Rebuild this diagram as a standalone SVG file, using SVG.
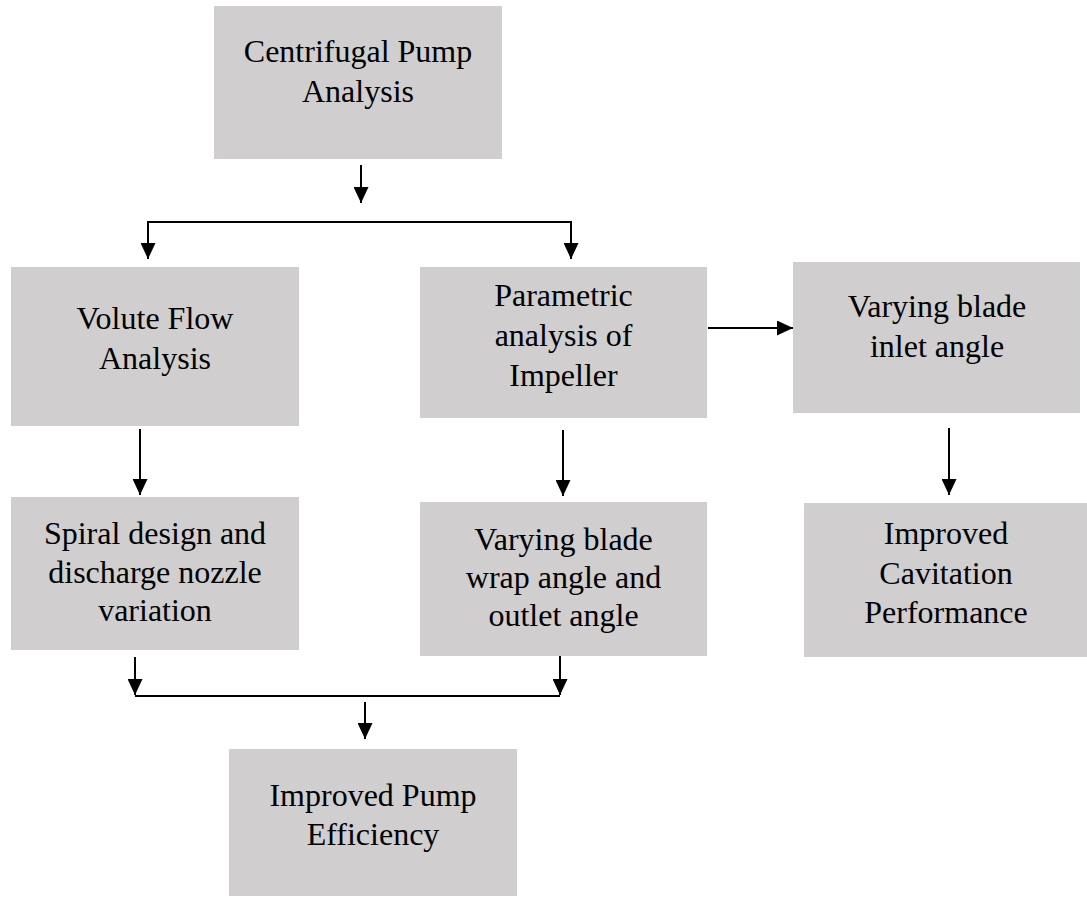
<svg xmlns="http://www.w3.org/2000/svg" width="1087" height="898" viewBox="0 0 1087 898">
<style>
.box{fill:#D0CECE;}
.lbl{font-family:"Liberation Serif","Times New Roman",serif;font-size:32px;fill:#000;text-anchor:middle;}
.con{stroke:#000;stroke-width:2;fill:none;}
</style>
<defs>
<marker id="ah" markerUnits="userSpaceOnUse" markerWidth="16" markerHeight="15" refX="16" refY="7.5" orient="auto">
<path d="M0,0 L16,7.5 L0,15 z" fill="#000"/>
</marker>
</defs>
<rect width="1087" height="898" fill="#fff"/>
<g id="n-centrifugal">
<rect class="box" x="214" y="6" width="288" height="153"/>
<text class="lbl" x="358" y="62">Centrifugal Pump</text>
<text class="lbl" x="358" y="102">Analysis</text>
</g>
<g id="n-volute">
<rect class="box" x="11" y="267" width="288" height="159"/>
<text class="lbl" x="155" y="329">Volute Flow</text>
<text class="lbl" x="155" y="369">Analysis</text>
</g>
<g id="n-parametric">
<rect class="box" x="420" y="267" width="287" height="151"/>
<text class="lbl" x="563.5" y="306">Parametric</text>
<text class="lbl" x="563.5" y="346">analysis of</text>
<text class="lbl" x="563.5" y="386">Impeller</text>
</g>
<g id="n-inlet">
<rect class="box" x="793" y="262" width="287" height="151"/>
<text class="lbl" x="937" y="317">Varying blade</text>
<text class="lbl" x="937" y="357">inlet angle</text>
</g>
<g id="n-spiral">
<rect class="box" x="11" y="497" width="288" height="153"/>
<text class="lbl" x="155" y="544">Spiral design and</text>
<text class="lbl" x="155" y="583">discharge nozzle</text>
<text class="lbl" x="155" y="621">variation</text>
</g>
<g id="n-wrap">
<rect class="box" x="420" y="502" width="287" height="154"/>
<text class="lbl" x="563.5" y="550">Varying blade</text>
<text class="lbl" x="563.5" y="588">wrap angle and</text>
<text class="lbl" x="563.5" y="626">outlet angle</text>
</g>
<g id="n-cavitation">
<rect class="box" x="804" y="503" width="283" height="154"/>
<text class="lbl" x="946" y="544">Improved</text>
<text class="lbl" x="946" y="584">Cavitation</text>
<text class="lbl" x="946" y="623">Performance</text>
</g>
<g id="n-efficiency">
<rect class="box" x="229" y="749" width="288" height="147"/>
<text class="lbl" x="373" y="806">Improved Pump</text>
<text class="lbl" x="373" y="845">Efficiency</text>
</g>
<g id="connectors">
<line class="con" x1="361" y1="165" x2="361" y2="203" marker-end="url(#ah)"/>
<polyline class="con" points="148,259 148,222 571,222 571,259"/>
<line class="con" x1="148" y1="222" x2="148" y2="259" marker-end="url(#ah)"/>
<line class="con" x1="571" y1="222" x2="571" y2="259" marker-end="url(#ah)"/>
<line class="con" x1="140" y1="429" x2="140" y2="495" marker-end="url(#ah)"/>
<line class="con" x1="708" y1="328" x2="793" y2="328" marker-end="url(#ah)"/>
<line class="con" x1="563" y1="430" x2="563" y2="496" marker-end="url(#ah)"/>
<line class="con" x1="949" y1="428" x2="949" y2="495" marker-end="url(#ah)"/>
<line class="con" x1="135" y1="657" x2="135" y2="695" marker-end="url(#ah)"/>
<line class="con" x1="560" y1="656" x2="560" y2="695" marker-end="url(#ah)"/>
<line class="con" x1="135" y1="696" x2="560" y2="696"/>
<line class="con" x1="365" y1="702" x2="365" y2="739" marker-end="url(#ah)"/>
</g>
</svg>
